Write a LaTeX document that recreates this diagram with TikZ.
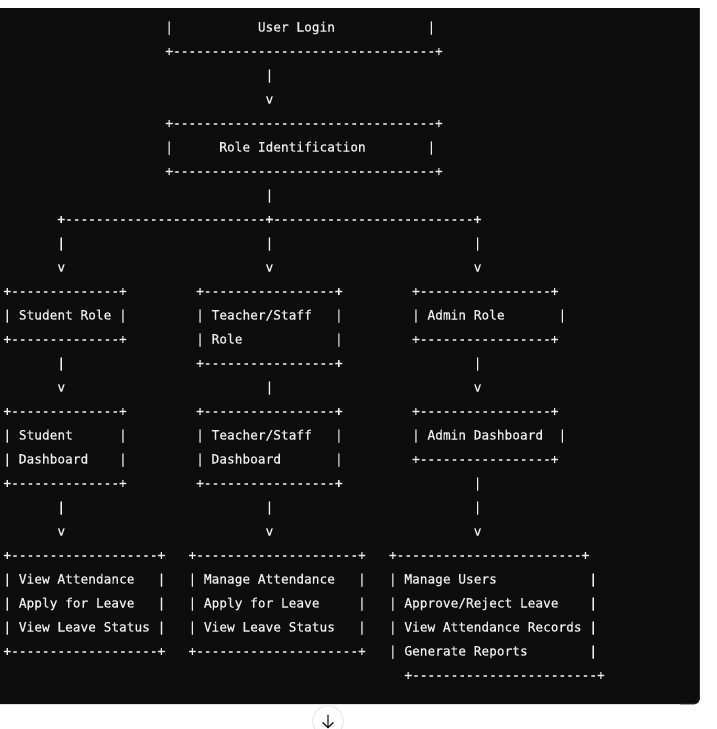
\documentclass[tikz,border=0pt]{standalone}
\usepackage{fontspec}
\setmonofont{DejaVu Sans Mono}[FakeBold=0.6]
\definecolor{codebg}{HTML}{0D0D0D}
\definecolor{codeedge}{HTML}{2E2E2E}
\definecolor{codetxt}{HTML}{EDEDED}
\definecolor{ringc}{HTML}{E3E3E3}
\definecolor{arrc}{HTML}{1A1A1A}
\ExplSyntaxOn
\NewDocumentCommand\boxline{m}{+\prg_replicate:nn{#1}{-}+}
\ExplSyntaxOff
\tikzset{
  asc/.style={anchor=base west, inner sep=0pt, outer sep=0pt, text=codetxt,
    font=\ttfamily\fontsize{12.8}{15}\selectfont}
}
\newcommand\chr[4]{\node[asc] (#1) at ({3.45+7.71*(#2)},{31.5+24*(#3)}) {#4};}
\begin{document}
\begin{tikzpicture}[x=1pt,y=-1pt]
\useasboundingbox (0,0) rectangle (717,729);
\begin{scope}
\clip (0,0) rectangle (717,729);
\fill[white] (0,0) rectangle (717,729);
\fill[codebg] (-6,8) -- (699.5,8) [rounded corners=5pt] -- (699.5,704) -- (-6,704) [sharp corners] -- cycle;
\draw[codeedge, line width=0.8pt] (699.5,8) [rounded corners=5pt] -- (699.5,704) -- (680,704);
% row 0-7: login and role identification
\chr{ulL}{21}{0}{|}\chr{ulT}{33}{0}{User Login}\chr{ulR}{55}{0}{|}
\chr{ulB}{21}{1}{\boxline{34}}
\chr{aA}{34}{2}{|}
\chr{aAv}{34}{3}{v}
\chr{riT}{21}{4}{\boxline{34}}
\chr{riL}{21}{5}{|}\chr{riX}{28}{5}{Role Identification}\chr{riR}{55}{5}{|}
\chr{riB}{21}{6}{\boxline{34}}
\chr{aB}{34}{7}{|}
% branch
\chr{brL}{7}{8}{\boxline{26}}\chr{brR}{34}{8}{\boxline{26}}
\chr{s1}{7}{9}{|}\chr{t1}{34}{9}{|}\chr{d1}{61}{9}{|}
\chr{s1v}{7}{10}{v}\chr{t1v}{34}{10}{v}\chr{d1v}{61}{10}{v}
% role boxes
\chr{srT}{0}{11}{\boxline{14}}\chr{trT}{25}{11}{\boxline{17}}\chr{arT}{53}{11}{\boxline{17}}
\chr{srL}{0}{12}{|}\chr{srX}{2}{12}{Student Role}\chr{srR}{15}{12}{|}
\chr{trL}{25}{12}{|}\chr{trX}{27}{12}{Teacher/Staff}\chr{trR}{43}{12}{|}
\chr{arL}{53}{12}{|}\chr{arX}{55}{12}{Admin Role}\chr{arR}{72}{12}{|}
\chr{srB}{0}{13}{\boxline{14}}
\chr{trL2}{25}{13}{|}\chr{trX2}{27}{13}{Role}\chr{trR2}{43}{13}{|}
\chr{arB}{53}{13}{\boxline{17}}
\chr{s2}{7}{14}{|}\chr{trB}{25}{14}{\boxline{17}}\chr{d2}{61}{14}{|}
\chr{s2v}{7}{15}{v}\chr{t2}{34}{15}{|}\chr{d2v}{61}{15}{v}
% dashboards
\chr{sdT}{0}{16}{\boxline{14}}\chr{tdT}{25}{16}{\boxline{17}}\chr{adT}{53}{16}{\boxline{17}}
\chr{sdL}{0}{17}{|}\chr{sdX}{2}{17}{Student}\chr{sdR}{15}{17}{|}
\chr{tdL}{25}{17}{|}\chr{tdX}{27}{17}{Teacher/Staff}\chr{tdR}{43}{17}{|}
\chr{adL}{53}{17}{|}\chr{adX}{55}{17}{Admin Dashboard}\chr{adR}{72}{17}{|}
\chr{sdL2}{0}{18}{|}\chr{sdX2}{2}{18}{Dashboard}\chr{sdR2}{15}{18}{|}
\chr{tdL2}{25}{18}{|}\chr{tdX2}{27}{18}{Dashboard}\chr{tdR2}{43}{18}{|}
\chr{adB}{53}{18}{\boxline{17}}
\chr{sdB}{0}{19}{\boxline{14}}\chr{tdB}{25}{19}{\boxline{17}}\chr{d3}{61}{19}{|}
\chr{s3}{7}{20}{|}\chr{t3}{34}{20}{|}\chr{d4}{61}{20}{|}
\chr{s3v}{7}{21}{v}\chr{t3v}{34}{21}{v}\chr{d4v}{61}{21}{v}
% feature boxes
\chr{sfT}{0}{22}{\boxline{19}}\chr{tfT}{24}{22}{\boxline{21}}\chr{afT}{50}{22}{\boxline{24}}
\chr{sfL1}{0}{23}{|}\chr{sfX1}{2}{23}{View Attendance}\chr{sfR1}{20}{23}{|}
\chr{tfL1}{24}{23}{|}\chr{tfX1}{26}{23}{Manage Attendance}\chr{tfR1}{46}{23}{|}
\chr{afL1}{50}{23}{|}\chr{afX1}{52}{23}{Manage Users}\chr{afR1}{76}{23}{|}
\chr{sfL2}{0}{24}{|}\chr{sfX2}{2}{24}{Apply for Leave}\chr{sfR2}{20}{24}{|}
\chr{tfL2}{24}{24}{|}\chr{tfX2}{26}{24}{Apply for Leave}\chr{tfR2}{46}{24}{|}
\chr{afL2}{50}{24}{|}\chr{afX2}{52}{24}{Approve/Reject Leave}\chr{afR2}{76}{24}{|}
\chr{sfL3}{0}{25}{|}\chr{sfX3}{2}{25}{View Leave Status}\chr{sfR3}{20}{25}{|}
\chr{tfL3}{24}{25}{|}\chr{tfX3}{26}{25}{View Leave Status}\chr{tfR3}{46}{25}{|}
\chr{afL3}{50}{25}{|}\chr{afX3}{52}{25}{View Attendance Records}\chr{afR3}{76}{25}{|}
\chr{sfB}{0}{26}{\boxline{19}}\chr{tfB}{24}{26}{\boxline{21}}
\chr{afL4}{50}{26}{|}\chr{afX4}{52}{26}{Generate Reports}\chr{afR4}{76}{26}{|}
\chr{afB}{52}{27}{\boxline{24}}
% scroll-down button
\node[circle, draw=ringc, line width=0.8pt, fill=white, minimum size=30.6pt, inner sep=0pt] (down) at (328,721.3) {};
\draw[arrc, line width=1.2pt, line cap=round, line join=round]
  ([yshift=6pt]down.center) -- ([yshift=-6.5pt]down.center)
  ([xshift=-5.2pt,yshift=-1.3pt]down.center) -- ([yshift=-6.5pt]down.center) -- ([xshift=5.2pt,yshift=-1.3pt]down.center);
\end{scope}
\end{tikzpicture}
\end{document}
